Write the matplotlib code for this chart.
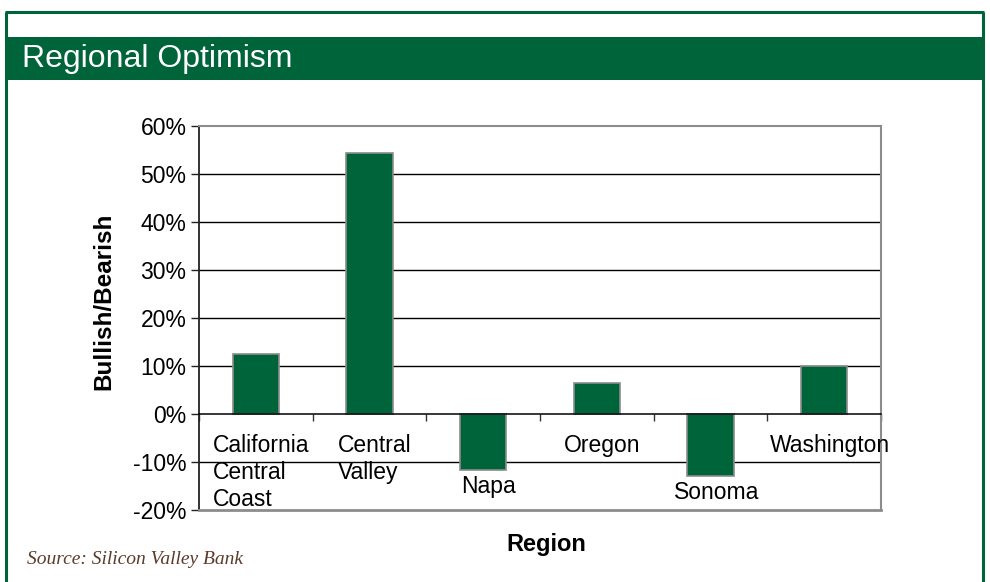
import matplotlib
matplotlib.use("Agg")
import matplotlib.pyplot as plt
from matplotlib.patches import Rectangle
from matplotlib.ticker import FuncFormatter, FixedLocator
import matplotlib.transforms as mtransforms

plt.rcParams['font.family'] = ['Liberation Sans', 'DejaVu Sans']
plt.rcParams['axes.unicode_minus'] = False

# Survey data: share of bullish minus bearish respondents, by region (%)
regions = ["California\nCentral\nCoast", "Central\nValley", "Napa", "Oregon", "Sonoma", "Washington"]
optimism = [12.4, 54.4, -11.7, 6.5, -12.9, 9.9]
y_ticks = [-20, -10, 0, 10, 20, 30, 40, 50, 60]

title = "Regional Optimism"
source = "Source: Silicon Valley Bank"

GREEN = "#00643a"
W, H = 990, 582

fig = plt.figure(figsize=(W / 100, H / 100), dpi=100)
fig.patch.set_facecolor("white")

# Outer frame and header band (figure pixel coordinates)
def fx(x):
    return x / W

def fy(y):
    return 1 - y / H

frame_kw = dict(transform=fig.transFigure, color=GREEN, lw=2.2, solid_capstyle="butt")
fig.add_artist(plt.Line2D([fx(6), fx(6)], [fy(12), 0], **frame_kw))
fig.add_artist(plt.Line2D([fx(983), fx(983)], [fy(12), 0], **frame_kw))
fig.add_artist(plt.Line2D([fx(5), fx(984)], [fy(12), fy(12)], **frame_kw))
fig.add_artist(Rectangle((fx(6), fy(80)), fx(983) - fx(6), fy(37) - fy(80),
                         transform=fig.transFigure, facecolor=GREEN, edgecolor="none"))
fig.text(fx(22), fy(59), title, color="white", fontsize=23, va="center", ha="left")

# Plot area
ax = fig.add_axes([fx(199), fy(510), fx(881) - fx(199), fy(126) - fy(510)])
n = len(regions)
x = list(range(n))
ax.bar(x, optimism, width=0.41, color=GREEN, edgecolor="#8c8c8c", linewidth=1.2, zorder=3)

ax.set_xlim(-0.5, n - 0.5)
ax.set_ylim(y_ticks[0], y_ticks[-1])
ax.yaxis.set_major_locator(FixedLocator(y_ticks))
ax.yaxis.set_major_formatter(FuncFormatter(lambda v, p: f"{v:.0f}%"))
ax.tick_params(axis="y", direction="out", length=6, width=1, color="#222222",
               labelsize=16.5, pad=3)

# Horizontal gridlines
for t in y_ticks[1:-1]:
    if t != 0:
        ax.axhline(t, color="black", lw=1.0, zorder=1)

# Category axis sits on the zero line, ticks between categories
ax.spines["bottom"].set_position(("data", 0))
ax.spines["bottom"].set_color("black")
ax.spines["bottom"].set_linewidth(1.1)
ax.spines["bottom"].set_zorder(4)
ax.xaxis.set_major_locator(FixedLocator([i - 0.5 for i in range(n + 1)]))
ax.tick_params(axis="x", direction="out", length=5, width=1, color="#333333",
               labelbottom=False)

ax.spines["left"].set_color("#222222")
ax.spines["left"].set_linewidth(1.3)
for s in ("top", "right"):
    ax.spines[s].set_color("#8c8c8c")
    ax.spines[s].set_linewidth(1.5)
ax.axhline(y_ticks[0], color="#8c8c8c", lw=2.0, clip_on=False, zorder=5)

# Category labels: under the axis, or under the bar when it is negative
for xi, name, v in zip(x, regions, optimism):
    if v < 0:
        off = -5
        base = v
    else:
        off = -20
        base = 0
    trans = ax.transData + mtransforms.ScaledTranslation(0, off / 100, fig.dpi_scale_trans)
    ax.text(xi + 0.05, base, name, transform=trans, ha="center", va="top",
            multialignment="left", fontsize=16.5, linespacing=1.22, zorder=6)

fig.text(fx(104), fy(301), "Bullish/Bearish", rotation=90, fontsize=17.5,
         fontweight="bold", ha="center", va="center")
fig.text(fx(546), fy(545), "Region", fontsize=17, fontweight="bold",
         ha="center", va="center")
fig.text(fx(27), fy(559), source, fontsize=14, style="italic",
         family=["Liberation Serif", "DejaVu Serif"], color="#5b3b2b",
         ha="left", va="center")

fig.savefig("out.png", dpi=100, facecolor="white")
